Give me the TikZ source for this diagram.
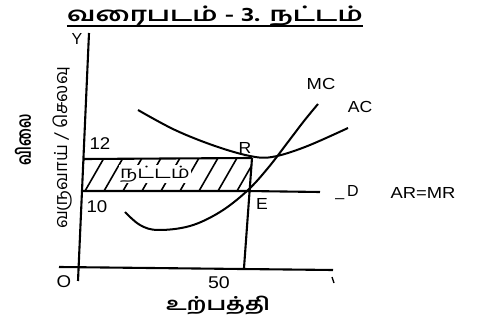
\documentclass[tikz,border=0pt]{standalone}
\usepackage{graphicx}
\usepackage{fontspec}
\setmainfont{Liberation Sans}
\newfontfamily\tamil[Script=Tamil]{Hind Madurai}
\begin{document}
\begin{tikzpicture}[x=1pt,y=-1pt,
  axis/.style={line width=2.1pt},
  curve/.style={line width=2pt},
  lbl/.style={font=\fontsize{16}{16}\selectfont, inner sep=0pt},
  num/.style={font=\fontsize{17}{17}\selectfont, inner sep=0pt},
  tam/.style={font=\tamil\fontsize{16}{16}\selectfont, inner sep=0pt}]
\useasboundingbox (0,0) rectangle (477,331);
% title
\node[font=\tamil\bfseries\fontsize{20}{20}\selectfont, inner sep=0pt, anchor=base] (title) at (215,22) {\scalebox{1.38}[1]{வரைபடம் - 3. நட்டம்}};
\draw[line width=1.6pt] ([yshift=-4pt]title.base west) -- ([yshift=-4pt]title.base east);
% axes
\coordinate (ytop) at (89,33);
\coordinate (ybot) at (78,281);
\coordinate (xl) at (59,267);
\coordinate (xr) at (333,270);
\draw[axis] (ytop) -- (ybot);
\draw[axis] (xl) -- (xr);
\node[lbl] (Y) at (77,39) {Y};
\node[num] (O) at (64,282) {\scalebox{1.1}[1]{O}};
\node[num] (f50) at (219,283) {\scalebox{1.15}[1]{50}};
\draw[line width=1.4pt] (332,277) -- (334,283);
\node[tam, font=\tamil\bfseries\fontsize{18}{18}\selectfont] (out) at (218,305) {\scalebox{1.3}[1]{உற்பத்தி}};
\node[tam, rotate=90, font=\tamil\fontsize{18}{18}\selectfont] (rev) at (63,148) {வருவாய் / செலவு};
\node[tam, rotate=90, font=\tamil\bfseries\fontsize{20}{20}\selectfont] (price) at (23,140) {\scalebox{0.72}[1]{விலை}};
% points
\coordinate (A12) at (84,159);
\coordinate (A10) at (82,191);
\coordinate (R) at (252,158);
\coordinate (E) at (247,191);
\coordinate (Rb) at (244,268);
\coordinate (Dend) at (320,192);
% hatching
\begin{scope}
\clip (84,159) rectangle (252,191);
\foreach \i in {0,...,10} \draw[line width=1.6pt] (66+\i*19,191) -- ++(19,-33);
\end{scope}
\node[tam, fill=white, inner sep=1pt, font=\tamil\fontsize{17}{17}\selectfont] (loss) at (155,174) {\scalebox{1.25}[1]{நட்டம்}};
\draw[axis] (A12) -- (R);
\draw[axis] (A10) -- (E) -- (Dend);
\draw[axis] (R) -- (Rb);
% curves
\draw[curve] plot[smooth, tension=0.6] coordinates {(138,110) (175,130) (215,146) (250,156) (272,157) (305,147) (348,128)};
\draw[curve] plot[smooth, tension=0.6] coordinates {(125,212) (140,225) (158,230) (190,226) (220,212) (247,191) (268,168) (288,142) (304,121) (318,104)};
% labels
\node[lbl] (MC) at (321,84) {\scalebox{1.15}[1]{MC}};
\node[lbl] (AC) at (360,107) {\scalebox{1.1}[1]{AC}};
\node[lbl] (Rl) at (245,148) {\scalebox{1.1}[1]{R}};
\node[lbl] (El) at (262,204) {\scalebox{1.1}[1]{E}};
\node[num] (n12) at (100,144) {\scalebox{1.1}[1]{12}};
\node[num] (n10) at (97,207) {\scalebox{1.1}[1]{10}};
\node[lbl] (D) at (347,193) {\_\hspace{3pt}D};
\node[lbl] (ARMR) at (423,193) {\scalebox{1.15}[1]{AR=MR}};
\end{tikzpicture}
\end{document}
